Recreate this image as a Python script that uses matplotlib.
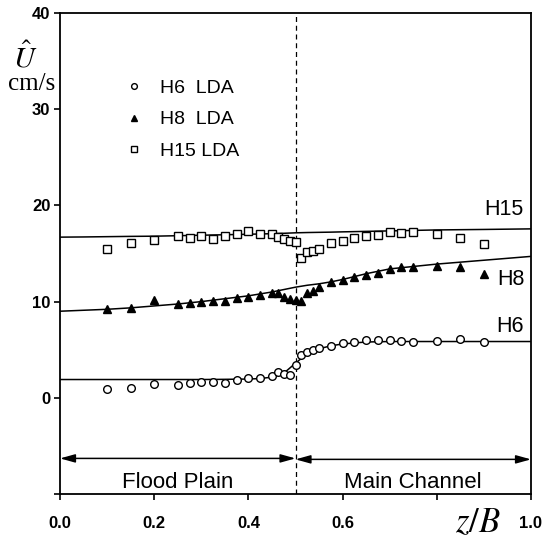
import numpy as np
import matplotlib
matplotlib.use('Agg')
from matplotlib import pyplot as plt

# Measured points (z/B positions, same for all three depths)
zB = [0.1, 0.15, 0.2, 0.25, 0.275, 0.3, 0.325, 0.35, 0.375, 0.4, 0.425, 0.45,
      0.4625, 0.475, 0.4875, 0.5, 0.5125, 0.525, 0.5375, 0.55, 0.575, 0.6,
      0.625, 0.65, 0.675, 0.7, 0.725, 0.75, 0.8, 0.85, 0.9]

h6_lda = [0.9, 1.0, 1.45, 1.28, 1.52, 1.66, 1.66, 1.56, 1.9, 2.08, 2.1, 2.3,
          2.63, 2.46, 2.4, 3.43, 4.47, 4.8, 4.98, 5.2, 5.43, 5.68,
          5.85, 5.96, 6.03, 6.03, 5.92, 5.85, 5.92, 6.13, 5.79]
h8_lda = [9.2, 9.3, 10.2, 9.77, 9.9, 9.97, 10.1, 10.08, 10.4, 10.5, 10.66, 10.87,
          10.87, 10.5, 10.3, 10.2, 10.1, 10.87, 11.1, 11.5, 12.0, 12.26,
          12.54, 12.78, 13.0, 13.4, 13.57, 13.57, 13.65, 13.6, 12.85]
h15_lda = [15.45, 16.07, 16.4, 16.86, 16.65, 16.8, 16.55, 16.86, 17.0, 17.3, 17.0, 17.0,
           16.7, 16.5, 16.35, 16.2, 14.5, 15.2, 15.3, 15.45, 16.07, 16.3,
           16.65, 16.8, 16.96, 17.27, 17.17, 17.27, 17.0, 16.65, 16.0]

# Model curves
modelX = [0, 0.05, 0.1, 0.15, 0.2, 0.25, 0.3, 0.35, 0.4, 0.425, 0.45, 0.475,
          0.5, 0.525, 0.55, 0.575, 0.6, 0.65, 0.7, 0.8, 0.9, 1.0]
h6_model = [1.9, 1.9, 1.9, 1.9, 1.9, 1.9, 1.9, 1.92, 1.95, 2.0, 2.15, 2.55,
            3.6, 4.6, 5.1, 5.4, 5.6, 5.8, 5.85, 5.85, 5.85, 5.85]
h8_model = [9.0, 9.1, 9.2, 9.35, 9.55, 9.75, 10.0, 10.3, 10.6, 10.8, 11.0, 11.25,
            11.5, 11.7, 11.85, 12.05, 12.3, 12.9, 13.4, 13.9, 14.3, 14.7]
h15_model = [16.7, 16.72, 16.75, 16.78, 16.8, 16.85, 16.9, 16.95, 17.0, 17.03, 17.06, 17.1,
             17.15, 17.18, 17.2, 17.22, 17.25, 17.3, 17.35, 17.45, 17.5, 17.56]

legendLabels = ['H6  LDA', 'H8  LDA', 'H15 LDA']
curveLabels = ['H6', 'H8', 'H15']
xTicks = [0.0, 0.2, 0.4, 0.6, 0.8, 1.0]
xTickLabels = ['0.0', '0.2', '0.4', '0.6', '', '1.0']
yTicks = [-10, 0, 10, 20, 30, 40]
yTickLabels = ['', '0', '10', '20', '30', '40']

plt.rcParams['font.family'] = ['Liberation Sans', 'DejaVu Sans']
plt.rcParams['mathtext.fontset'] = 'stix'

fig = plt.figure(figsize=(5.44, 5.46), dpi=100)
ax = fig.add_axes([60 / 544, 52 / 546, 471 / 544, 481 / 546])

# Model lines
for yy in (h6_model, h8_model, h15_model):
    ax.plot(modelX, yy, color='black', linewidth=1.1, zorder=2)

# Data points
p6, = ax.plot(zB, h6_lda, linestyle='none', marker='o', markersize=5.5,
              markerfacecolor='white', markeredgecolor='black', markeredgewidth=1.0, zorder=3)
p8, = ax.plot(zB, h8_lda, linestyle='none', marker='^', markersize=6,
              color='black', zorder=3)
p15, = ax.plot(zB, h15_lda, linestyle='none', marker='s', markersize=5.5,
               markerfacecolor='white', markeredgecolor='black', markeredgewidth=1.0, zorder=3)

# Channel divide
ax.axvline(0.5, color='black', linestyle=(0, (4, 3)), linewidth=0.9, zorder=1)

# Region arrows
arrowProps = dict(arrowstyle='<|-|>,head_length=0.9,head_width=0.25', color='black',
                  linewidth=1.1, shrinkA=0, shrinkB=0)
ax.annotate('', xy=(0.0, -6.3), xytext=(0.5, -6.3), arrowprops=arrowProps)
ax.annotate('', xy=(0.5, -6.4), xytext=(1.0, -6.4), arrowprops=arrowProps)
ax.text(0.25, -8.8, 'Flood Plain', ha='center', va='center', fontsize=16)
ax.text(0.75, -8.8, 'Main Channel', ha='center', va='center', fontsize=16)

# Curve labels
ax.text(0.985, 19.6, curveLabels[2], ha='right', va='center', fontsize=15.5)
ax.text(0.987, 12.25, curveLabels[1], ha='right', va='center', fontsize=15.5)
ax.text(0.985, 7.4, curveLabels[0], ha='right', va='center', fontsize=15.5)

# Legend
leg = ax.legend([p6, p8, p15], legendLabels, loc='upper left', bbox_to_anchor=(0.1, 0.898),
                frameon=False, fontsize=14, handlelength=1.0, handletextpad=0.8,
                labelspacing=0.7, markerscale=0.75)

# Axes
ax.set_xlim(0, 1)
ax.set_ylim(-10, 40)
ax.set_xticks(xTicks)
ax.set_xticklabels(xTickLabels, fontweight='bold', fontsize=12)
ax.set_yticks(yTicks)
ax.set_yticklabels(yTickLabels, fontweight='bold', fontsize=12)
ax.tick_params(axis='x', direction='out', length=4, width=1.2, pad=12)
ax.tick_params(axis='y', direction='out', length=4, width=1.2, pad=3)
for s in ax.spines.values():
    s.set_linewidth(1.3)

# Axis labels
ax.text(-0.074, 35.3, r'$\hat{U}$', ha='center', va='center', fontsize=21, clip_on=False)
ax.text(-0.06, 32.6, 'cm/s', ha='center', va='center', fontsize=18,
        family='Liberation Serif', clip_on=False)
ax.text(0.887, -13.0, r'$z/B$', ha='center', va='center', fontsize=25, clip_on=False)

fig.savefig('out.png', dpi=100)
